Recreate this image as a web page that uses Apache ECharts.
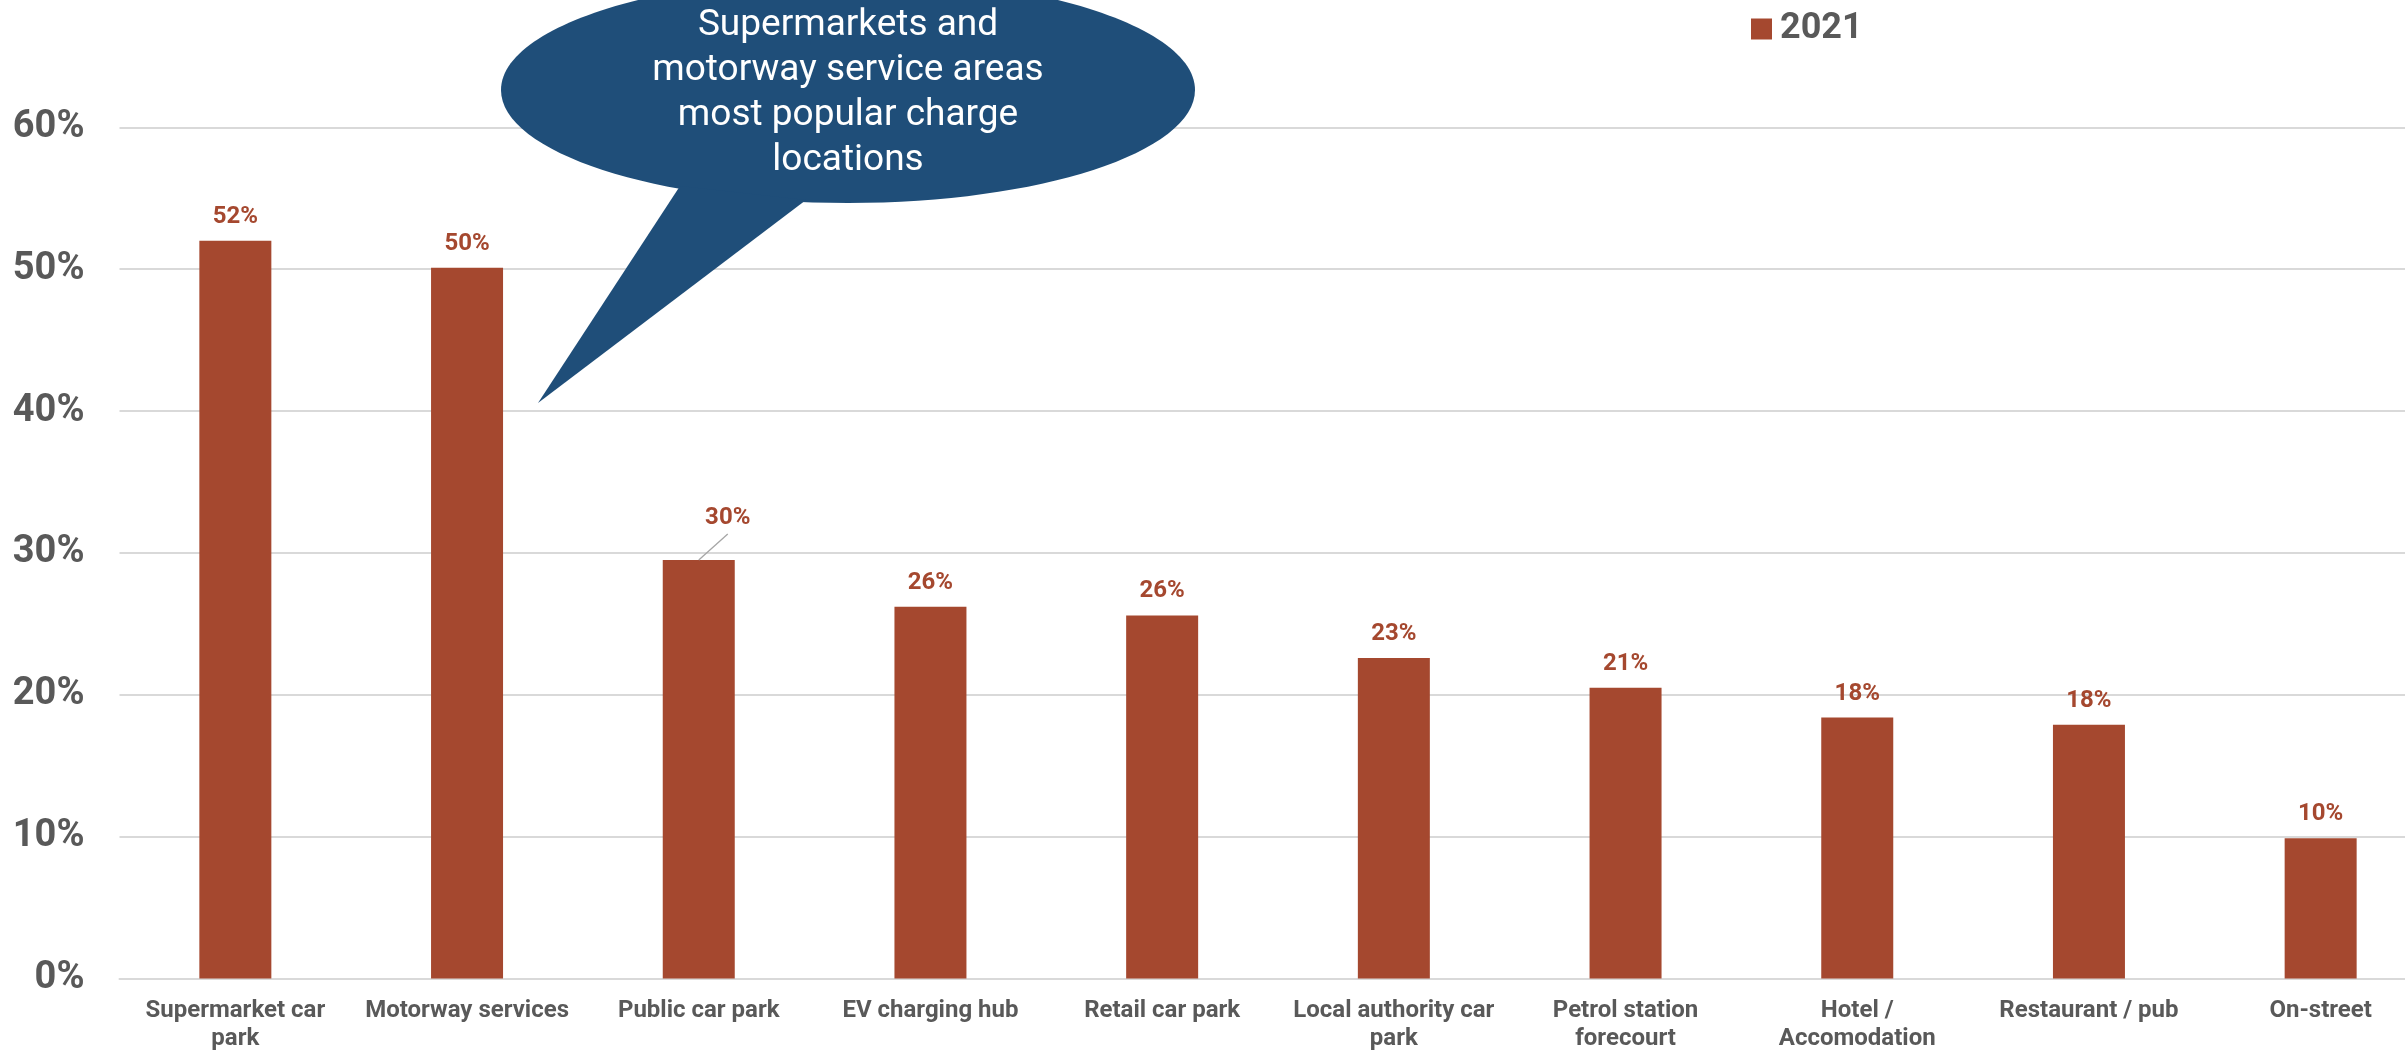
<!DOCTYPE html>
<html>
<head>
<meta charset="utf-8">
<title>Most popular charge locations</title>
<script src="https://cdn.jsdelivr.net/npm/echarts@6/dist/echarts.min.js"></script>
<style>
  html, body { margin: 0; padding: 0; background: #ffffff; }
  #chart { width: 2405px; height: 1051px; }
</style>
</head>
<body>
<div id="chart"></div>
<script>
// Share of drivers using each location to charge (2021), in percent
const categories = [
  'Supermarket car\npark',
  'Motorway services',
  'Public car park',
  'EV charging hub',
  'Retail car park',
  'Local authority car\npark',
  'Petrol station\nforecourt',
  'Hotel /\nAccomodation',
  'Restaurant / pub',
  'On-street'
];
const values2021 = [52.0, 50.1, 29.5, 26.2, 25.6, 22.6, 20.5, 18.4, 17.9, 9.9];
const seriesName = '2021';
const yTicks = { min: 0, max: 60, interval: 10 };
// the label of this bar is nudged aside and tied back with a leader line
const leaderIndex = 2;
const calloutLines = [
  'Supermarkets and',
  'motorway service areas',
  'most popular charge',
  'locations'
];

const barColor = '#A5482F';
const textGrey = '#595959';
const gridGrey = '#D9D9D9';
const calloutBlue = '#1F4E79';
const leaderShift = { dx: 29, dy: -18 };

const chart = echarts.init(document.getElementById('chart'), null, { renderer: 'canvas' });

const callout = {
  type: 'group',
  id: 'callout',
  silent: true,
  z: 100,
  children: [
    {
      type: 'ellipse',
      z: 100,
      shape: { cx: 848, cy: 90, rx: 347, ry: 113 },
      style: { fill: calloutBlue }
    },
    {
      type: 'polygon',
      z: 100,
      shape: { points: [[680, 186], [538, 403], [806, 200]] },
      style: { fill: calloutBlue }
    },
    {
      type: 'text',
      z: 101,
      style: {
        x: 848,
        y: 93,
        text: calloutLines.join('\n'),
        fill: '#ffffff',
        font: '37px Roboto',
        lineHeight: 45,
        align: 'center',
        verticalAlign: 'middle'
      }
    }
  ]
};

chart.setOption({
  backgroundColor: '#ffffff',
  animation: false,
  textStyle: { fontFamily: 'Roboto' },
  grid: {
    left: 119.5,
    top: 127.3,
    width: 2317,
    bottom: 72.4,
    containLabel: false,
    outerBoundsMode: 'none'
  },
  legend: {
    data: [seriesName],
    left: 1746,
    top: 6,
    icon: 'rect',
    itemWidth: 21,
    itemHeight: 21,
    itemGap: 10,
    textStyle: { color: textGrey, fontSize: 36, fontWeight: 'bold', fontFamily: 'Roboto', padding: [0, 0, 0, 3] }
  },
  xAxis: {
    type: 'category',
    data: categories,
    axisLine: { show: true, lineStyle: { color: gridGrey, width: 2 } },
    axisTick: { show: false },
    axisLabel: {
      interval: 0,
      color: textGrey,
      fontSize: 24,
      fontWeight: 'bold',
      fontFamily: 'Roboto',
      lineHeight: 28,
      margin: 18
    }
  },
  yAxis: {
    type: 'value',
    min: yTicks.min,
    max: yTicks.max,
    interval: yTicks.interval,
    axisLine: { show: false },
    axisTick: { show: false },
    splitLine: { lineStyle: { color: gridGrey, width: 2 } },
    axisLabel: {
      formatter: '{value}%',
      color: textGrey,
      fontSize: 38,
      fontWeight: 'bold',
      fontFamily: 'Roboto',
      margin: 35
    }
  },
  series: [{
    name: seriesName,
    type: 'bar',
    data: values2021,
    barWidth: 72,
    itemStyle: { color: barColor },
    label: {
      show: true,
      position: 'top',
      distance: 12,
      color: barColor,
      fontSize: 24,
      fontWeight: 'bold',
      fontFamily: 'Roboto',
      formatter: p => Math.round(p.value) + '%'
    },
    labelLayout: p => (p.dataIndex === leaderIndex ? leaderShift : null)
  }],
  graphic: [callout]
});

// Leader line from the top of the nudged bar up towards its label
const barTop = chart.convertToPixel({ xAxisIndex: 0, yAxisIndex: 0 }, [leaderIndex, values2021[leaderIndex]]);
chart.setOption({
  graphic: [callout, {
    type: 'line',
    id: 'leader',
    silent: true,
    z: 50,
    shape: {
      x1: barTop[0], y1: barTop[1],
      x2: barTop[0] + leaderShift.dx, y2: barTop[1] + leaderShift.dy - 8
    },
    style: { stroke: '#A6A6A6', lineWidth: 1.3 }
  }]
});
</script>
</body>
</html>
